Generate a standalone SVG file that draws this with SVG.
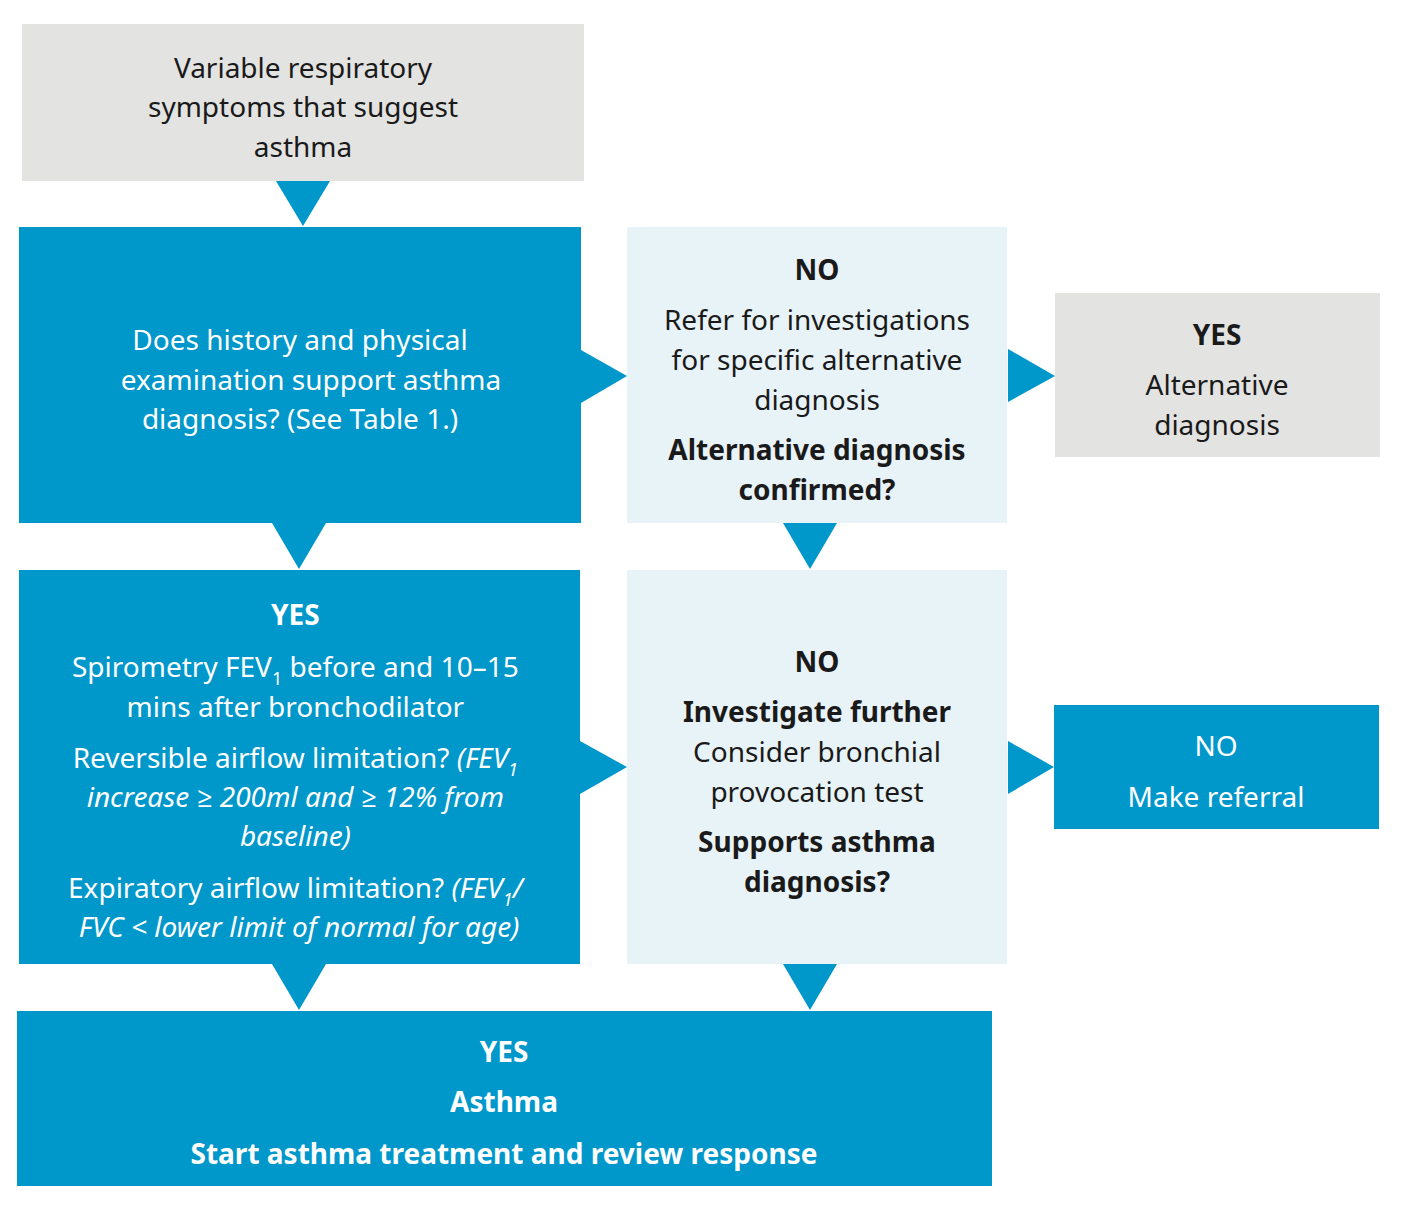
<svg xmlns="http://www.w3.org/2000/svg" width="1410" height="1208" viewBox="0 0 1410 1208">
<style>
.g{fill:#E3E3E2}.b{fill:#0097CB}.l{fill:#E8F3F8}.a{fill:#0097CB}
text{font-family:"Noto Sans","Open Sans",sans-serif;font-size:28px;text-anchor:middle}
.w{fill:#fff}.k{fill:#1a1a1a}.bd{font-weight:bold}.i{font-style:italic}
.s{font-size:18px}
</style>
<rect width="1410" height="1208" fill="#fff"/>
<g id="n1"><rect class="g" x="22" y="24" width="562" height="157"/>
<text class="k"><tspan x="303" y="78">Variable respiratory</tspan><tspan x="303" y="117">symptoms that suggest</tspan><tspan x="303" y="157">asthma</tspan></text></g>
<g id="n2"><rect class="b" x="19" y="227" width="562" height="296"/>
<text class="w"><tspan x="300" y="350">Does history and physical</tspan><tspan x="311" y="390">examination support asthma</tspan><tspan x="300" y="429">diagnosis? (See Table 1.)</tspan></text></g>
<g id="n3"><rect class="l" x="627" y="227" width="380" height="296"/>
<text class="k"><tspan class="bd" x="817" y="280">NO</tspan><tspan x="817" y="330">Refer for investigations</tspan><tspan x="817" y="370">for specific alternative</tspan><tspan x="817" y="410">diagnosis</tspan><tspan class="bd" x="817" y="460">Alternative diagnosis</tspan><tspan class="bd" x="817" y="500">confirmed?</tspan></text></g>
<g id="n4"><rect class="g" x="1055" y="293" width="325" height="164"/>
<text class="k"><tspan class="bd" x="1217" y="345">YES</tspan><tspan x="1217" y="395">Alternative</tspan><tspan x="1217" y="435">diagnosis</tspan></text></g>
<g id="n5"><rect class="b" x="19" y="570" width="561" height="394"/>
<text class="w"><tspan class="bd" x="299" y="625">YES</tspan>
<tspan x="299" y="677">Spirometry FEV<tspan class="s" dy="8">1</tspan><tspan dy="-8"> before and 10–15</tspan></tspan>
<tspan x="299" y="717">mins after bronchodilator</tspan>
<tspan x="299" y="768">Reversible airflow limitation? <tspan class="i">(FEV</tspan><tspan class="s i" dy="8">1</tspan></tspan>
<tspan class="i" x="299" y="807">increase ≥ 200ml and ≥ 12% from</tspan>
<tspan class="i" x="299" y="846">baseline)</tspan>
<tspan x="299" y="898">Expiratory airflow limitation? <tspan class="i">(FEV</tspan><tspan class="s i" dy="8">1</tspan><tspan class="i" dy="-8">/</tspan></tspan>
<tspan class="i" x="299" y="937">FVC &lt; lower limit of normal for age)</tspan></text></g>
<g id="n6"><rect class="l" x="627" y="570" width="380" height="394"/>
<text class="k"><tspan class="bd" x="817" y="672">NO</tspan><tspan class="bd" x="817" y="722">Investigate further</tspan><tspan x="817" y="762">Consider bronchial</tspan><tspan x="817" y="802">provocation test</tspan><tspan class="bd" x="817" y="852">Supports asthma</tspan><tspan class="bd" x="817" y="892">diagnosis?</tspan></text></g>
<g id="n7"><rect class="b" x="1054" y="705" width="325" height="124"/>
<text class="w"><tspan x="1216" y="756">NO</tspan><tspan x="1216" y="807">Make referral</tspan></text></g>
<g id="n8"><rect class="b" x="17" y="1011" width="975" height="175"/>
<text class="w bd"><tspan x="504" y="1062">YES</tspan><tspan x="504" y="1112">Asthma</tspan><tspan x="504" y="1164">Start asthma treatment and review response</tspan></text></g>
<g id="connectors">
<polygon class="a" points="276,181 330,181 303,226"/>
<polygon class="a" points="581,350 581,403 627,376"/>
<polygon class="a" points="1008,349 1008,402 1055,376"/>
<polygon class="a" points="272,523 326,523 299,569"/>
<polygon class="a" points="783,523 837,523 810,569"/>
<polygon class="a" points="580,741 580,794 627,767"/>
<polygon class="a" points="1008,741 1008,794 1054,767"/>
<polygon class="a" points="272,964 326,964 299,1010"/>
<polygon class="a" points="783,964 837,964 810,1010"/>
</g>
</svg>
